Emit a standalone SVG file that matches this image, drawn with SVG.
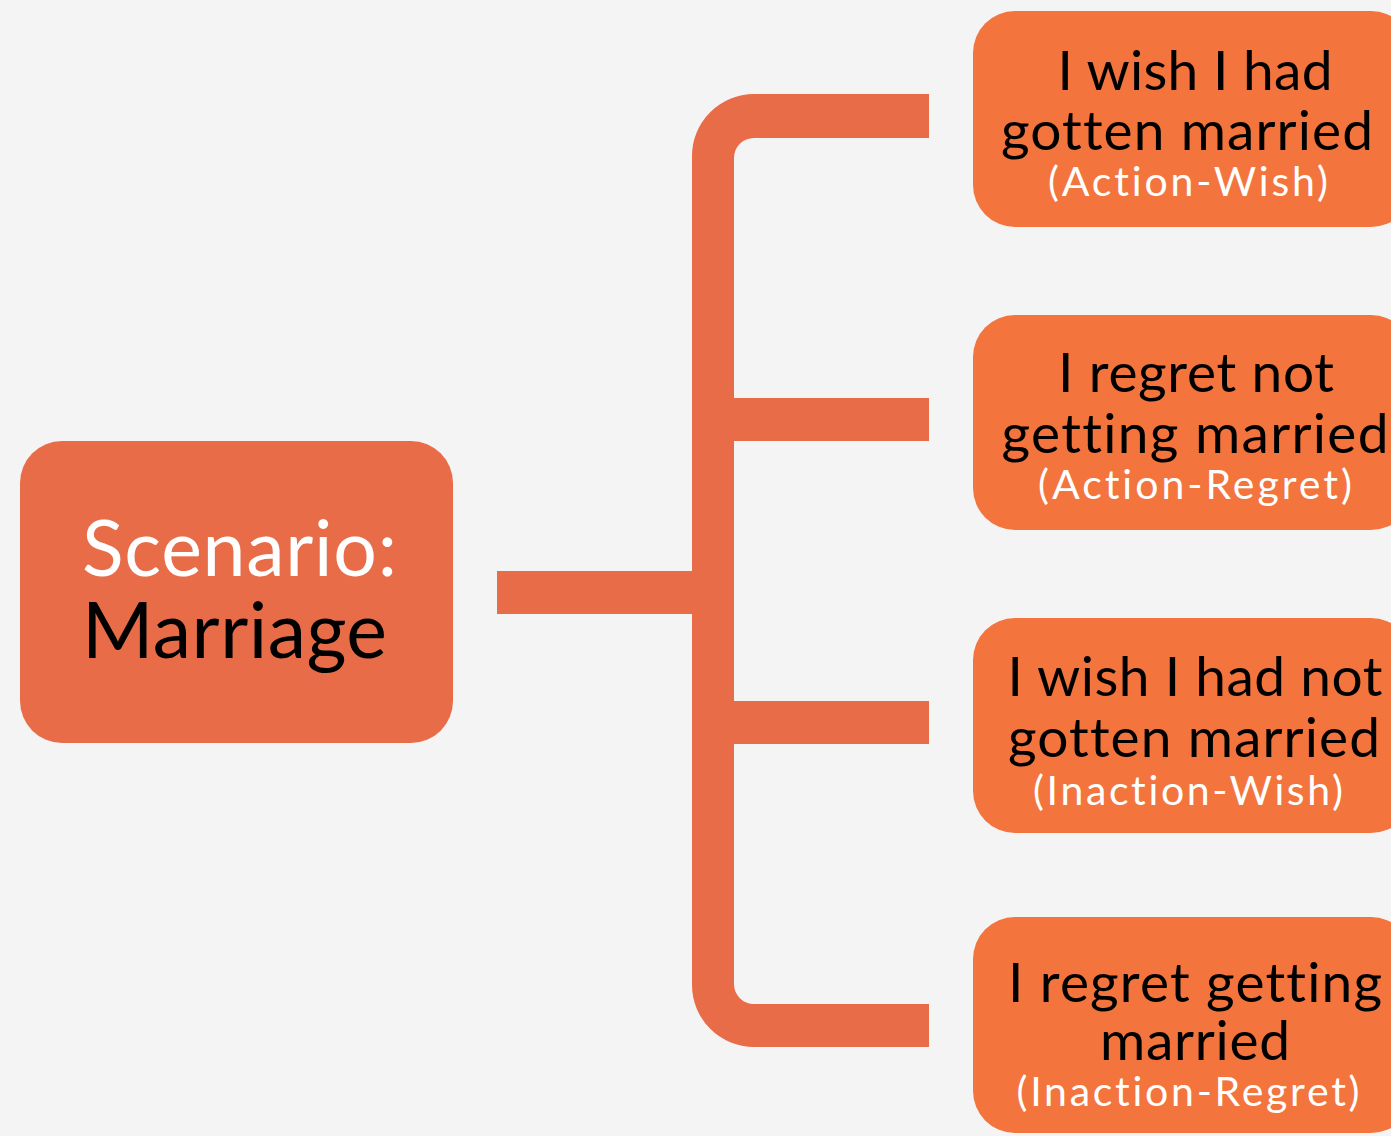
<svg xmlns="http://www.w3.org/2000/svg" width="1391" height="1136" viewBox="0 0 1391 1136">
<style>
.bg{fill:#F4F4F4}
.conn{fill:#E96C48}
.main{fill:#E96C48}
.leaf{fill:#F3743D}
.t{font-family:Lato,"Open Sans","DejaVu Sans",sans-serif;font-variant-ligatures:none}
.big{font-size:77px}
.mid{font-size:55px;fill:#000;text-anchor:middle}
.sub{font-size:41px;fill:#fff;text-anchor:middle}
</style>
<rect class="bg" x="0" y="0" width="1391" height="1136"/>
<g id="connectors">
<rect class="conn" x="497" y="571" width="196" height="43"/>
<path class="conn" d="M929,94 H754 A62,62 0 0 0 692,156 V985 A62,62 0 0 0 754,1047 H929 V1004 H754 A20,20 0 0 1 734,984 V744 H929 V701 H734 V441 H929 V398 H734 V158 A20,20 0 0 1 754,138 H929 Z"/>
</g>
<g id="scenario">
<rect class="main" x="20" y="441" width="433" height="302" rx="42"/>
<text class="t big" x="82" y="576" fill="#fff" textLength="315">Scenario:</text>
<text class="t big" x="82" y="658" fill="#000" textLength="305">Marriage</text>
</g>
<g id="action-wish">
<rect class="leaf" x="973" y="11" width="440" height="216" rx="42"/>
<text class="t mid" x="1195" y="90" textLength="275">I wish I had</text>
<text class="t mid" x="1187" y="150" textLength="372">gotten married</text>
<text class="t sub" x="1188" y="196" textLength="280">(Action-Wish)</text>
</g>
<g id="action-regret">
<rect class="leaf" x="973" y="315" width="440" height="215" rx="42"/>
<text class="t mid" x="1196" y="392" textLength="276">I regret not</text>
<text class="t mid" x="1195" y="453" textLength="387">getting married</text>
<text class="t sub" x="1195" y="499" textLength="314">(Action-Regret)</text>
</g>
<g id="inaction-wish">
<rect class="leaf" x="973" y="618" width="440" height="215" rx="42"/>
<text class="t mid" x="1195" y="696" textLength="375">I wish I had not</text>
<text class="t mid" x="1194" y="757" textLength="372">gotten married</text>
<text class="t sub" x="1188" y="805" textLength="310">(Inaction-Wish)</text>
</g>
<g id="inaction-regret">
<rect class="leaf" x="973" y="917" width="440" height="216" rx="42"/>
<text class="t mid" x="1195" y="1002" textLength="374">I regret getting</text>
<text class="t mid" x="1195" y="1060" textLength="190">married</text>
<text class="t sub" x="1188" y="1106" textLength="343">(Inaction-Regret)</text>
</g>
</svg>
